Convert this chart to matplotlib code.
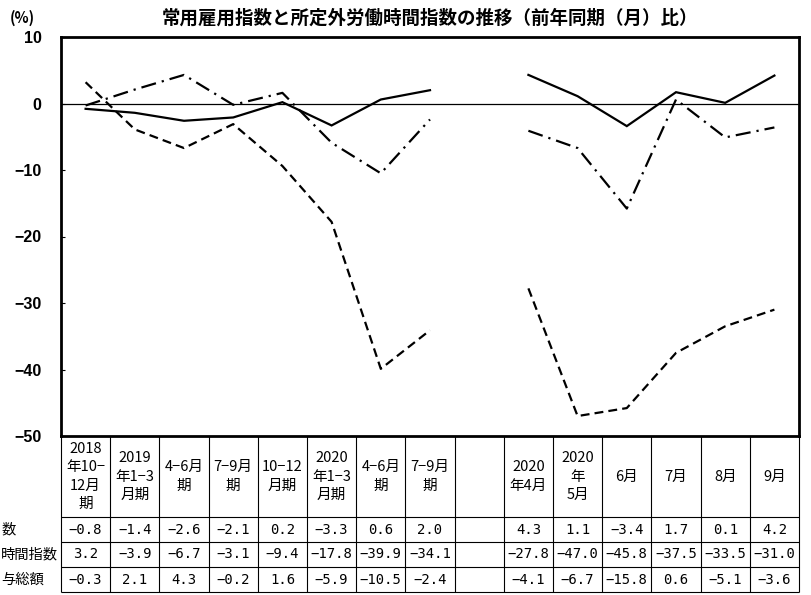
import numpy as np
import matplotlib
matplotlib.use("Agg")
import matplotlib.pyplot as plt

plt.rcParams['font.family'] = ['Noto Sans CJK JP', 'DejaVu Sans']

# column headers (blank column separates quarterly and monthly figures)
categories = ["2018\n年10−\n12月\n期", "2019\n年1−3\n月期", "4−6月\n期", "7−9月\n期",
              "10−12\n月期", "2020\n年1−3\n月期", "4−6月\n期", "7−9月\n期", "",
              "2020\n年4月", "2020\n年\n5月", "6月", "7月", "8月", "9月"]

# row labels as visible (cut at the left edge in the original)
row_labels = ["数", "時間指数", "与総額"]

nan = np.nan
employment = [-0.8, -1.4, -2.6, -2.1, 0.2, -3.3, 0.6, 2.0, nan, 4.3, 1.1, -3.4, 1.7, 0.1, 4.2]
overtime = [3.2, -3.9, -6.7, -3.1, -9.4, -17.8, -39.9, -34.1, nan,
            -27.8, -47.0, -45.8, -37.5, -33.5, -31.0]
wages = [-0.3, 2.1, 4.3, -0.2, 1.6, -5.9, -10.5, -2.4, nan, -4.1, -6.7, -15.8, 0.6, -5.1, -3.6]

yticks = [10, 0, -10, -20, -30, -40, -50]

W, H = 811, 595
fig = plt.figure(figsize=(W / 100, H / 100), dpi=100)

# pixel layout
px_left, px_right, px_top, px_bot = 61, 799, 37, 436
tab_bot = 592

ax = fig.add_axes([px_left / W, 1 - px_bot / H, (px_right - px_left) / W, (px_bot - px_top) / H])
x = np.arange(len(categories))

lw = 1.6
ax.plot(x, employment, color="black", lw=lw, solid_joinstyle="miter")
ax.plot(x, overtime, color="black", lw=lw, dashes=(4, 2.3))
ax.plot(x, wages, color="black", lw=lw, dashes=(6.8, 2.7, 1.0, 2.7))
ax.axhline(0, color="black", lw=0.9)

ax.set_xlim(-0.5, len(categories) - 0.5)
ax.set_ylim(-50, 10)
ax.set_xticks([])
ax.set_yticks(yticks)
ax.tick_params(axis="y", direction="in", length=3, width=0.8, pad=14)
for lab in ax.get_yticklabels():
    lab.set_fontfamily("Liberation Sans")
    lab.set_fontweight("bold")
    lab.set_fontsize(11.5)
for sp in ax.spines.values():
    sp.set_linewidth(2.0)

fig.text(22 / W, 1 - 18 / H, "(%)", ha="center", va="center", fontsize=10.5, fontweight="bold")
fig.text(430 / W, 1 - 18 / H, "常用雇用指数と所定外労働時間指数の推移（前年同期（月）比）",
         ha="center", va="center", fontsize=13.3, fontweight="bold")

# data table under the chart
tax = fig.add_axes([px_left / W, 1 - tab_bot / H, (px_right - px_left) / W, (tab_bot - px_bot) / H])
tax.set_xlim(-0.5, len(categories) - 0.5)
tax.set_ylim(tab_bot - px_bot, 0)
tax.axis("off")

row_edges = [0, 81, 106, 131, 156]
for i in range(len(categories) + 1):
    tax.vlines(i - 0.5, 0, row_edges[-1], color="black", lw=0.8, clip_on=False)
for y in row_edges[1:]:
    tax.hlines(y, -0.5, len(categories) - 0.5, color="black", lw=0.8, clip_on=False)

for i, c in enumerate(categories):
    tax.text(i, 40.5, c, ha="center", va="center", fontsize=10.5, linespacing=1.38)

series = [employment, overtime, wages]
for r, vals in enumerate(series):
    yc = (row_edges[r + 1] + row_edges[r + 2]) / 2
    for i, v in enumerate(vals):
        if np.isnan(v):
            continue
        tax.text(i, yc, f"{v:.1f}".replace("-", "−"), ha="center", va="center",
                 fontsize=10, family=["DejaVu Sans Mono"])
    fig.text(1 / W, 1 - (px_bot + yc) / H, row_labels[r], ha="left", va="center", fontsize=10.3)

fig.savefig("out.png", dpi=100)
